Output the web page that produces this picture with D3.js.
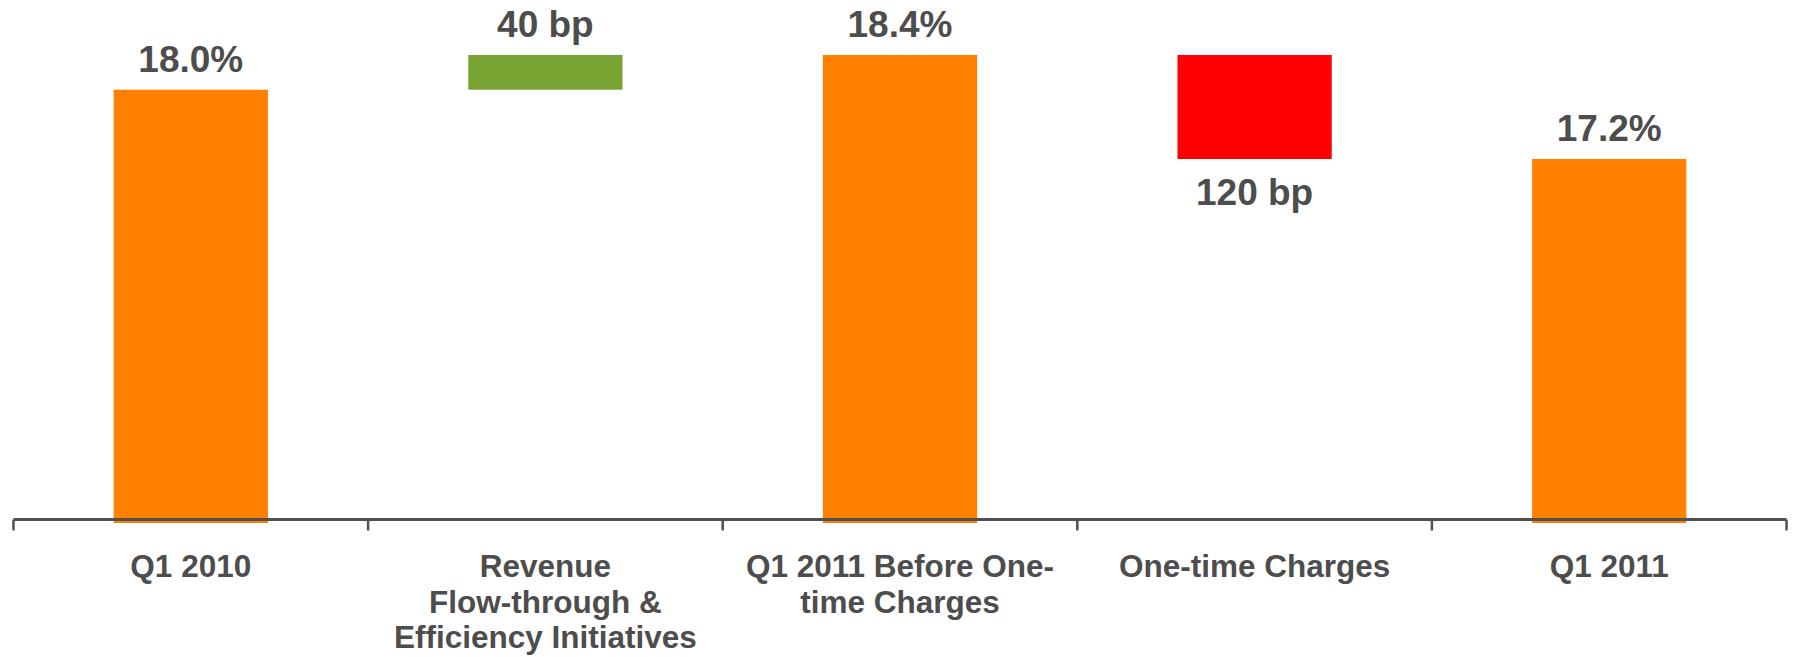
<!DOCTYPE html>
<html>
<head>
<meta charset="utf-8">
<script src="https://cdn.jsdelivr.net/npm/d3@7"></script>
<style>
  html, body { margin: 0; padding: 0; background: #fff; }
  svg { display: block; }
  text { font-family: "Liberation Sans", Arial, sans-serif; font-weight: bold; fill: #4d4d4d; }
</style>
</head>
<body>
<svg id="chart" width="1795" height="657"></svg>
<script>
// ---- data ----
const categories = ["Q1 2010", "Revenue Flow-through & Efficiency Initiatives", "Q1 2011 Before One-time Charges", "One-time Charges", "Q1 2011"];
const categoryLines = [["Q1 2010"], ["Revenue", "Flow-through &", "Efficiency Initiatives"], ["Q1 2011 Before One-", "time Charges"], ["One-time Charges"], ["Q1 2011"]];
const barStart = [13.0, 18.0, 13.0, 18.4, 13.0];
const barEnd   = [18.0, 18.4, 18.4, 17.2, 17.2];
const barType  = ["total", "increase", "total", "decrease", "total"];
const valueLabels = ["18.0%", "40 bp", "18.4%", "120 bp", "17.2%"];
const yDomain = [13, 19];

// ---- layout ----
const svg = d3.select("#chart");
const colors = { total: "#FF8000", increase: "#78A232", decrease: "#FF0000" };

const x = d3.scaleBand().domain(categories).range([13.5, 1786.5]).padding(0);
const y = d3.scaleLinear().domain(yDomain).range([523, 3]);
const barFrac = 0.435;
const bw = x.bandwidth() * barFrac;

// bars
svg.append("g").selectAll("rect")
  .data(categories)
  .join("rect")
  .attr("x", (d) => x(d) + (x.bandwidth() - bw) / 2)
  .attr("width", bw)
  .attr("y", (d, i) => y(Math.max(barStart[i], barEnd[i])))
  .attr("height", (d, i) => Math.abs(y(barStart[i]) - y(barEnd[i])))
  .attr("fill", (d, i) => colors[barType[i]]);

// axis
const axis = d3.axisBottom(x).tickSize(0).tickFormat("");
const ax = svg.append("g").attr("transform", "translate(0,519.5)").call(axis);
ax.select(".domain").attr("stroke", "#505050").attr("stroke-width", 3).attr("d", `M13.5,0H1786.5`);
// boundary ticks
const bounds = categories.map(d => x(d)).concat([x(categories[categories.length - 1]) + x.bandwidth()]);
ax.selectAll(".btick").data(bounds).join("line")
  .attr("class", "btick")
  .attr("x1", d => d).attr("x2", d => d)
  .attr("y1", 0).attr("y2", 11)
  .attr("stroke", "#505050").attr("stroke-width", 2.5);

// category labels
const cl = svg.append("g");
categories.forEach((c, i) => {
  const t = cl.append("text")
    .attr("x", x(c) + x.bandwidth() / 2)
    .attr("y", 577)
    .attr("text-anchor", "middle")
    .style("font-size", "31.5px");
  categoryLines[i].forEach((ln, j) => {
    t.append("tspan").attr("x", x(c) + x.bandwidth() / 2).attr("dy", j === 0 ? 0 : 35.5).text(ln);
  });
});

// value labels
svg.append("g").selectAll("text")
  .data(categories)
  .join("text")
  .attr("x", (d) => x(d) + x.bandwidth() / 2)
  .attr("y", (d, i) => barType[i] === "decrease"
      ? y(Math.min(barStart[i], barEnd[i])) + 46
      : y(Math.max(barStart[i], barEnd[i])) - 18)
  .attr("text-anchor", "middle")
  .style("font-size", "37px")
  .text((d, i) => valueLabels[i]);
</script>
</body>
</html>
